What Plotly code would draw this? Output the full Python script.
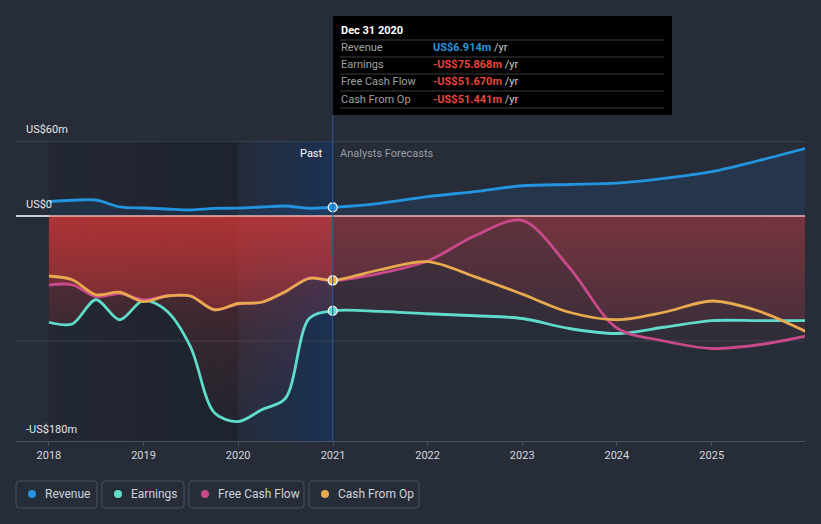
import plotly.graph_objects as go
import pandas as pd

# ---------------- data (US$m) ----------------
past_dates = ["2018-01-01", "2018-04-01", "2018-07-01", "2018-10-01", "2019-01-01",
              "2019-04-01", "2019-07-01", "2019-10-01", "2020-01-01", "2020-04-01",
              "2020-07-01", "2020-10-01", "2020-12-31"]
fc_dates = ["2021-07-01", "2022-01-01", "2022-07-01", "2023-01-01", "2023-07-01",
            "2024-01-01", "2024-07-01", "2025-01-01", "2025-07-01", "2025-12-31"]

revenue_past = [11.5, 12.6, 12.8, 7.3, 6.4, 5.6, 4.8, 6.1, 6.3, 7.2, 8.0, 6.2, 6.914]
earnings_past = [-85.0, -86.4, -67.0, -83.0, -67.5, -76.0, -104.5, -157.3, -164.5,
                 -155.0, -146.0, -82.0, -75.868]
fcf_past = [-55.2, -55.0, -64.5, -62.0, -67.0, -64.0, -64.0, -75.0, -70.4, -69.0,
            -60.5, -49.5, -51.670]
cfo_past = [-48.0, -51.0, -63.0, -61.0, -68.5, -64.0, -64.0, -75.0, -70.0, -69.0,
            -60.5, -50.0, -51.441]

revenue_fc = [10.1, 15.5, 19.5, 24.2, 25.2, 26.3, 30.1, 35.5, 44.3, 54.1]
earnings_fc = [-76.3, -78.2, -79.8, -82.0, -90.0, -94.0, -89.0, -83.7, -83.7, -83.7]
fcf_fc = [-45.9, -36.0, -16.0, -3.5, -41.0, -89.6, -100.0, -106.0, -103.0, -96.0]
cfo_fc = [-43.0, -36.5, -48.5, -62.5, -77.0, -83.0, -77.0, -68.0, -76.0, -92.5]

year_ticks = ["2018", "2019", "2020", "2021", "2022", "2023", "2024", "2025"]
y_labels = {60: "US$60m", 0: "US$0", -180: "-US$180m"}

tooltip_title = "Dec 31 2020"
tooltip_rows = [("Revenue", "US$6.914m", "#2394df"),
                ("Earnings", "-US$75.868m", "#e8453c"),
                ("Free Cash Flow", "-US$51.670m", "#e8453c"),
                ("Cash From Op", "-US$51.441m", "#e8453c")]

series_names = ["Revenue", "Earnings", "Free Cash Flow", "Cash From Op"]
colors = {"Revenue": "#2394df", "Earnings": "#5fdccb",
          "Free Cash Flow": "#c94a8a", "Cash From Op": "#e8a94f"}

# ---------------- layout geometry ----------------
W, H = 821, 524
L, R, T, B = 16, 805, 141, 441
PW, PH = R - L, B - T
FONT = "Roboto, 'Open Sans', sans-serif"
BG = "#262c38"


def px(xp):
    return (xp - L) / PW


def py(yp):
    return (B - yp) / PH


def rounded_rect(x0, x1, y0, y1, r=3):
    """Path (paper coords) of a rounded rectangle given pixel edges."""
    pts = []
    def P(a, b):
        return f"{px(a):.5f},{py(b):.5f}"
    pts.append(f"M {P(x0 + r, y0)}")
    pts.append(f"L {P(x1 - r, y0)}")
    pts.append(f"Q {P(x1, y0)} {P(x1, y0 + r)}")
    pts.append(f"L {P(x1, y1 - r)}")
    pts.append(f"Q {P(x1, y1)} {P(x1 - r, y1)}")
    pts.append(f"L {P(x0 + r, y1)}")
    pts.append(f"Q {P(x0, y1)} {P(x0, y1 - r)}")
    pts.append(f"L {P(x0, y0 + r)}")
    pts.append(f"Q {P(x0, y0)} {P(x0 + r, y0)} Z")
    return " ".join(pts)


fig = go.Figure()

all_dates = past_dates + fc_dates
past_end = past_dates[-1]

# fills
red_past = dict(type="vertical", start=-180, stop=0,
                colorscale=[[0, "rgba(215,55,55,0.0)"], [0.45, "rgba(215,55,55,0.12)"],
                            [1, "rgba(215,55,55,0.38)"]])
red_fc = dict(type="vertical", start=-180, stop=0,
              colorscale=[[0, "rgba(200,60,70,0.0)"], [0.45, "rgba(200,60,70,0.06)"],
                          [1, "rgba(200,60,70,0.2)"]])
for past, fc in [(earnings_past, earnings_fc), (fcf_past, fcf_fc), (cfo_past, cfo_fc)]:
    fig.add_trace(go.Scatter(x=past_dates, y=past, mode="lines", fill="tozeroy",
                             fillgradient=red_past, line=dict(width=0, shape="spline"),
                             hoverinfo="skip", showlegend=False))
    fig.add_trace(go.Scatter(x=[past_end] + fc_dates, y=[past[-1]] + fc, mode="lines",
                             fill="tozeroy", fillgradient=red_fc,
                             line=dict(width=0, shape="spline"),
                             hoverinfo="skip", showlegend=False))

fig.add_trace(go.Scatter(x=all_dates, y=revenue_past + revenue_fc, mode="lines",
                         fill="tozeroy", fillcolor="rgba(35,120,210,0.12)",
                         line=dict(width=0, shape="spline"), hoverinfo="skip",
                         showlegend=False))

# lines
series = {"Revenue": (revenue_past, revenue_fc), "Earnings": (earnings_past, earnings_fc),
          "Free Cash Flow": (fcf_past, fcf_fc), "Cash From Op": (cfo_past, cfo_fc)}
for name in ["Earnings", "Free Cash Flow", "Cash From Op", "Revenue"]:
    p, f = series[name]
    fig.add_trace(go.Scatter(x=all_dates, y=p + f, mode="lines", name=name,
                             line=dict(color=colors[name], width=2.8, shape="spline",
                                       smoothing=0.9),
                             showlegend=False))

# markers at the current point
for name in ["Revenue", "Earnings", "Free Cash Flow", "Cash From Op"]:
    p, _ = series[name]
    fig.add_trace(go.Scatter(x=[past_end], y=[p[-1]], mode="markers",
                             marker=dict(color=colors[name], size=9,
                                         line=dict(color="white", width=1.2)),
                             showlegend=False, hoverinfo="skip"))

shapes = []
# past dark shading with gradient
n = 14
d0 = pd.Timestamp("2018-01-01")
d1 = pd.Timestamp("2020-01-01")
for i in range(n):
    a = d0 + (d1 - d0) * i / n
    b = d0 + (d1 - d0) * (i + 1) / n
    shapes.append(dict(type="rect", xref="x", yref="paper", x0=a, x1=b, y0=0, y1=1,
                       fillcolor=f"rgba(10,12,18,{0.12 + 0.14 * i / (n - 1):.3f})",
                       line=dict(width=0), layer="below"))
d2 = pd.Timestamp(past_end)
for i in range(n):
    a = d1 + (d2 - d1) * i / n
    b = d1 + (d2 - d1) * (i + 1) / n
    shapes.append(dict(type="rect", xref="x", yref="paper", x0=a, x1=b, y0=0, y1=1,
                       fillcolor=f"rgba(18,55,110,{0.08 + 0.42 * i / (n - 1):.3f})",
                       line=dict(width=0), layer="below"))

# grid lines
shapes.append(dict(type="line", xref="paper", yref="y", x0=0, x1=1, y0=60, y1=60,
                   line=dict(color="#4a505c", width=1), layer="below"))
shapes.append(dict(type="line", xref="paper", yref="y", x0=0, x1=1, y0=-100, y1=-100,
                   line=dict(color="#3b414d", width=1), layer="below"))
# zero line
shapes.append(dict(type="line", xref="paper", yref="y", x0=0, x1=px(49), y0=0, y1=0,
                   line=dict(color="#ffffff", width=1.5), layer="above"))
shapes.append(dict(type="line", xref="x", yref="y", x0="2018-01-01", x1="2025-12-31",
                   y0=0, y1=0, line=dict(color="#f0b4b4", width=1.5), layer="above"))
# current date vertical line
shapes.append(dict(type="line", xref="x", yref="paper", x0=past_end, x1=past_end,
                   y0=0, y1=py(115), line=dict(color="#2a5c9a", width=1), layer="above"))

# tooltip box
shapes.append(dict(type="rect", xref="paper", yref="paper", x0=px(333), x1=px(672),
                   y0=py(115), y1=py(16), fillcolor="#000000", line=dict(width=0),
                   layer="above"))
for yy in [40, 57, 74, 91, 108]:
    shapes.append(dict(type="line", xref="paper", yref="paper", x0=px(340), x1=px(664),
                       y0=py(yy), y1=py(yy), line=dict(color="#3c3c3c", width=1),
                       layer="above"))

annotations = []
annotations.append(dict(xref="paper", yref="paper", x=px(339), y=py(31), xanchor="left",
                        yanchor="middle", showarrow=False, text=f"<b>{tooltip_title}</b>",
                        font=dict(color="white", size=11, family=FONT)))
for i, (lab, val, col) in enumerate(tooltip_rows):
    yy = 48 + 17 * i
    annotations.append(dict(xref="paper", yref="paper", x=px(339), y=py(yy),
                            xanchor="left", yanchor="middle", showarrow=False, text=lab,
                            font=dict(color="#a0a0a0", size=11, family=FONT)))
    annotations.append(dict(xref="paper", yref="paper", x=px(431), y=py(yy),
                            xanchor="left", yanchor="middle", showarrow=False,
                            text=f"<b><span style='color:{col}'>{val}</span></b>"
                                 f"<span style='color:#cccccc'> /yr</span>",
                            font=dict(size=11, family=FONT)))

# y labels
for v, t in y_labels.items():
    annotations.append(dict(xref="paper", yref="y", x=px(24), y=v, xanchor="left",
                            yanchor="bottom", yshift=3, showarrow=False, text=t,
                            font=dict(color="#e6e6e6", size=11, family=FONT)))

# past / forecast labels
annotations.append(dict(xref="x", yref="paper", x=past_end, y=py(153), xanchor="right",
                        yanchor="middle", xshift=-8, showarrow=False, text="Past",
                        font=dict(color="#ffffff", size=11, family=FONT)))
annotations.append(dict(xref="x", yref="paper", x=past_end, y=py(153), xanchor="left",
                        yanchor="middle", xshift=5, showarrow=False,
                        text="Analysts Forecasts",
                        font=dict(color="#9a9ea6", size=11, family=FONT)))

# legend (custom buttons)
legend_boxes = [(16, 97), (102, 184), (189, 304), (309, 419)]
for name, (x0, x1) in zip(series_names, legend_boxes):
    y0p, y1p = 481, 508
    shapes.append(dict(type="path", xref="paper", yref="paper",
                       path=rounded_rect(x0, x1, y0p, y1p, 3),
                       line=dict(color="#4b515e", width=1),
                       fillcolor="rgba(0,0,0,0)", layer="above"))
    shapes.append(dict(type="circle", xref="paper", yref="paper", x0=px(x0 + 12),
                       x1=px(x0 + 20), y0=py(498), y1=py(490),
                       fillcolor=colors[name], line=dict(width=0), layer="above"))
    annotations.append(dict(xref="paper", yref="paper", x=px(x0 + 27), y=py(494.5),
                            xanchor="left", yanchor="middle", showarrow=False, text=name,
                            font=dict(color="#cfd3da", size=12, family=FONT)))

fig.update_layout(
    width=W, height=H,
    margin=dict(l=L, r=W - R, t=T, b=H - B),
    paper_bgcolor=BG, plot_bgcolor=BG,
    showlegend=False,
    shapes=shapes, annotations=annotations,
    font=dict(family=FONT),
    hovermode=False,
    xaxis=dict(type="date", range=["2017-08-27", "2025-12-27"],
               tickvals=[f"{y}-01-01" for y in year_ticks], ticktext=year_ticks,
               ticks="outside", ticklen=4, tickcolor="#4b515e", showline=True,
               linecolor="#4b515e", linewidth=1, showgrid=False, zeroline=False,
               tickfont=dict(color="#d6d8dc", size=11, family=FONT), fixedrange=True),
    yaxis=dict(range=[-180, 60], showgrid=False, zeroline=False, showticklabels=False,
               fixedrange=True),
)

fig.write_html("out.html", config={"displayModeBar": False},
               post_script="document.body.style.margin='0';"
                           "document.body.style.background='" + BG + "';")
